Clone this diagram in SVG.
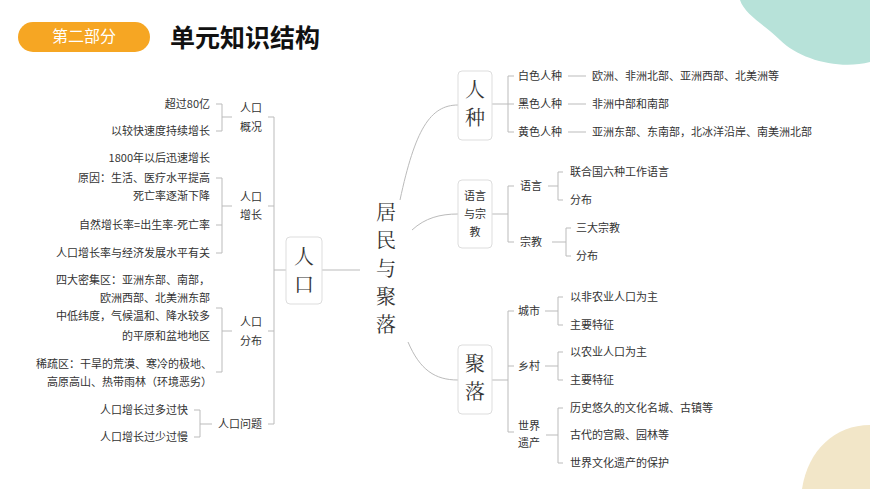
<svg xmlns="http://www.w3.org/2000/svg" width="870" height="489" viewBox="0 0 870 489">
<style>
.t{font-family:"Noto Sans CJK SC","Noto Sans",sans-serif;font-size:11px;fill:#333}
.r{text-anchor:end}
.big{font-family:"Noto Serif CJK SC","Noto Sans CJK SC",serif;font-size:20px;fill:#333;text-anchor:middle}
.l{fill:none;stroke:#bbb;stroke-width:1}
.box{fill:#fff;stroke:#ddd;stroke-width:1}
</style>
<rect width="870" height="489" fill="#fff"/>
<path d="M740 0 H870 V62 C840 70 800 60 780 40 C765 25 745 15 740 0Z" fill="#b7e2d9"/>
<path d="M870 425 C835 425 808 450 802 489 H870Z" fill="#f2e6c8"/>
<g id="header">
<rect x="18" y="22" width="132" height="30" rx="15" fill="#f6a623"/>
<text x="84" y="42" class="t" style="font-size:16px;fill:#fff;text-anchor:middle">第二部分</text>
<text x="170" y="47" style="font-family:'Noto Sans CJK SC',sans-serif;font-size:25px;font-weight:bold;fill:#111">单元知识结构</text>
</g>
<g id="connectors" class="l">
<path d="M322 270 H360"/>
<path d="M286 270 H274 M274 117 V424 M274 117 H268 M274 206 H268 M274 331 H268 M274 424 H268"/>
<path d="M232 117 H222 M216 104 H222 V131 H216"/>
<path d="M232 206 H222 M216 178 H222 V253 H216 M216 225 H222"/>
<path d="M232 331 H222 M216 308 H222 V372 H216"/>
<path d="M212 424 H200 M194 410 H200 V437 H194"/>
<path d="M400 200 C415 130 430 105 458 105"/>
<path d="M412 230 C425 218 440 214 458 214"/>
<path d="M408 342 C420 370 435 380 458 380"/>
<path d="M492 104 H508 M514 76 H508 V132 H514 M508 104 H514"/>
<path d="M568 76 H586 M568 104 H586 M568 132 H586"/>
<path d="M492 214 H508 M514 186 H508 V242 H514"/>
<path d="M548 186 H558 M563 172 H558 V200 H563"/>
<path d="M552 242 H566 M571 228 H566 V256 H571"/>
<path d="M492 380 H508 M514 311 H508 V432 H514 M508 366 H514"/>
<path d="M545 311 H558 M563 297 H558 V325 H563"/>
<path d="M545 366 H558 M563 352 H558 V380 H563"/>
<path d="M546 435 H558 M563 408 H558 V463 H563"/>
</g>
<g id="n-renkou"><rect class="box" x="286" y="237" width="36" height="67" rx="4"/><text class="big" x="304" y="264">人</text><text class="big" x="304" y="292">口</text></g>
<g id="n-center"><text class="big" x="386" y="220">居</text><text class="big" x="386" y="248">民</text><text class="big" x="386" y="276">与</text><text class="big" x="386" y="304">聚</text><text class="big" x="386" y="332">落</text></g>
<g id="n-gaikuang"><text class="t" x="240" y="112">人口</text><text class="t" x="240" y="131">概况</text>
<text class="t r" x="210" y="108">超过80亿</text><text class="t r" x="210" y="135">以较快速度持续增长</text></g>
<g id="n-zengzhang"><text class="t" x="240" y="201">人口</text><text class="t" x="240" y="219">增长</text>
<text class="t r" x="210" y="162">1800年以后迅速增长</text><text class="t r" x="210" y="182">原因：生活、医疗水平提高</text><text class="t r" x="210" y="200">死亡率逐渐下降</text><text class="t r" x="210" y="229">自然增长率=出生率-死亡率</text><text class="t r" x="210" y="257">人口增长率与经济发展水平有关</text></g>
<g id="n-fenbu"><text class="t" x="240" y="326">人口</text><text class="t" x="240" y="345">分布</text>
<text class="t r" x="210" y="284">四大密集区：亚洲东部、南部，</text><text class="t r" x="210" y="302">欧洲西部、北美洲东部</text><text class="t r" x="210" y="320">中低纬度，气候温和、降水较多</text><text class="t r" x="210" y="340">的平原和盆地地区</text><text class="t r" x="212" y="368">稀疏区：干旱的荒漠、寒冷的极地、</text><text class="t r" x="212" y="386">高原高山、热带雨林（环境恶劣）</text></g>
<g id="n-wenti"><text class="t" x="218" y="428">人口问题</text>
<text class="t r" x="188" y="414">人口增长过多过快</text><text class="t r" x="188" y="441">人口增长过少过慢</text></g>
<g id="n-renzhong"><rect class="box" x="458" y="71" width="34" height="69" rx="4"/><text class="big" x="475" y="97">人</text><text class="big" x="475" y="125">种</text>
<text class="t" x="518" y="80">白色人种</text><text class="t" x="518" y="108">黑色人种</text><text class="t" x="518" y="136">黄色人种</text>
<text class="t" x="592" y="80">欧洲、非洲北部、亚洲西部、北美洲等</text><text class="t" x="592" y="108">非洲中部和南部</text><text class="t" x="592" y="136">亚洲东部、东南部，北冰洋沿岸、南美洲北部</text></g>
<g id="n-yuyan"><rect class="box" x="458" y="180" width="34" height="68" rx="4"/><text class="t" x="475" y="200" style="text-anchor:middle">语言</text><text class="t" x="475" y="218" style="text-anchor:middle">与宗</text><text class="t" x="475" y="236" style="text-anchor:middle">教</text>
<text class="t" x="520" y="190">语言</text><text class="t" x="520" y="246">宗教</text>
<text class="t" x="570" y="176">联合国六种工作语言</text><text class="t" x="570" y="204">分布</text><text class="t" x="576" y="232">三大宗教</text><text class="t" x="576" y="260">分布</text></g>
<g id="n-juluo"><rect class="box" x="458" y="345" width="34" height="69" rx="4"/><text class="big" x="475" y="371">聚</text><text class="big" x="475" y="399">落</text>
<text class="t" x="518" y="315">城市</text><text class="t" x="518" y="370">乡村</text><text class="t" x="518" y="430">世界</text><text class="t" x="518" y="447">遗产</text>
<text class="t" x="570" y="301">以非农业人口为主</text><text class="t" x="570" y="329">主要特征</text><text class="t" x="570" y="356">以农业人口为主</text><text class="t" x="570" y="384">主要特征</text><text class="t" x="570" y="412">历史悠久的文化名城、古镇等</text><text class="t" x="570" y="439">古代的宫殿、园林等</text><text class="t" x="570" y="467">世界文化遗产的保护</text></g>
</svg>
